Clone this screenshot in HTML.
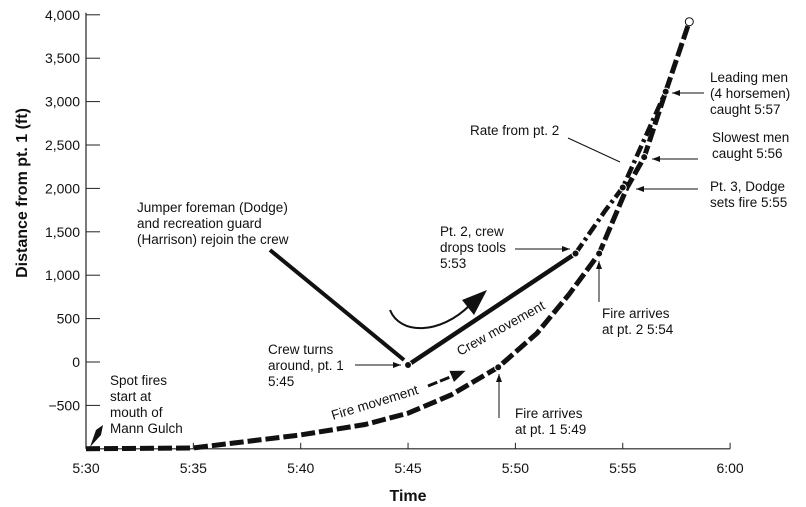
<!DOCTYPE html>
<html><head><meta charset="utf-8"><style>
body{margin:0;background:#fff}
svg{display:block;font-family:"Liberation Sans",Arial,sans-serif}
text{fill:#111}
</style></head><body>
<svg id="chart" width="806" height="507" viewBox="0 0 806 507">
<defs><marker id="ah" markerWidth="8" markerHeight="6" refX="8" refY="3" orient="auto"><path d="M0,0L8,3L0,6z" fill="#111"/></marker>
<marker id="bah" markerWidth="5" markerHeight="4" refX="3" refY="2" orient="auto"><path d="M0,0L5,2L0,4z" fill="#111"/></marker></defs>
<g id="axes"></g>
<g id="series"></g>
<g id="ann" font-size="13.5">
<text x="210" y="212"><tspan x="137" dy="0">Jumper foreman (Dodge)</tspan><tspan x="137" dy="16">and recreation guard</tspan><tspan x="137" dy="16">(Harrison) rejoin the crew</tspan></text>
<line x1="270" y1="250" x2="404" y2="360" stroke="#111" stroke-width="4"/>
<path d="M390,310 C400,335 440,335 470,305" fill="none" stroke="#111" stroke-width="2"/>
<path d="M462,300 L487,290 L474,315 z" fill="#111"/>
<text><tspan x="268" y="354">Crew turns</tspan><tspan x="268" y="370">around, pt. 1</tspan><tspan x="268" y="386">5:45</tspan></text>
<line x1="355" y1="365" x2="401" y2="365" stroke="#111" marker-end="url(#ah)"/>
<text><tspan x="110" y="385">Spot fires</tspan><tspan x="110" y="401">start at</tspan><tspan x="110" y="417">mouth of</tspan><tspan x="110" y="433">Mann Gulch</tspan></text>
<path d="M90,447 L96,430 L103,425 L101,435 z" fill="#111"/>
<text><tspan x="440" y="236">Pt. 2, crew</tspan><tspan x="440" y="252">drops tools</tspan><tspan x="440" y="268">5:53</tspan></text>
<line x1="515" y1="249" x2="570" y2="249" stroke="#111" marker-end="url(#ah)"/>
<text x="470" y="135">Rate from pt. 2</text>
<line x1="568" y1="138" x2="620" y2="162" stroke="#111"/>
<text><tspan x="710" y="82">Leading men</tspan><tspan x="710" y="98">(4 horsemen)</tspan><tspan x="710" y="114">caught 5:57</tspan></text>
<line x1="704" y1="93" x2="672" y2="93" stroke="#111" marker-end="url(#ah)"/>
<text><tspan x="712" y="142">Slowest men</tspan><tspan x="712" y="158">caught 5:56</tspan></text>
<line x1="698" y1="159" x2="652" y2="159" stroke="#111" marker-end="url(#ah)"/>
<text><tspan x="710" y="191">Pt. 3, Dodge</tspan><tspan x="710" y="207">sets fire 5:55</tspan></text>
<line x1="698" y1="189" x2="636" y2="189" stroke="#111" marker-end="url(#ah)"/>
<text><tspan x="602" y="318">Fire arrives</tspan><tspan x="602" y="334">at pt. 2  5:54</tspan></text>
<line x1="599" y1="302" x2="599" y2="261" stroke="#111" marker-end="url(#ah)"/>
<text><tspan x="515" y="418">Fire arrives</tspan><tspan x="515" y="434">at pt. 1  5:49</tspan></text>
<line x1="499" y1="418" x2="499" y2="374" stroke="#111" marker-end="url(#ah)"/>
<text x="0" y="0" transform="translate(460,356) rotate(-29)">Crew movement</text>
<text x="0" y="0" transform="translate(333,420) rotate(-17)">Fire movement</text>
<line x1="428" y1="386" x2="460" y2="373" stroke="#111" stroke-width="3" stroke-dasharray="10,3" marker-end="url(#bah)"/>
</g>
</svg>
<script>
const xTicks=[0,5,10,15,20,25,30];
const xTickLabels=["5:30","5:35","5:40","5:45","5:50","5:55","6:00"];
const yTicks=[-500,0,500,1000,1500,2000,2500,3000,3500,4000];
const yTickLabels=["\u2212500","0","500","1,000","1,500","2,000","2,500","3,000","3,500","4,000"];
const fireT=[0,5,10,13,15,17,19.2,21,22.5,23.9,25.2,26.0,27.0,28.1];
const fireV=[-1000,-990,-840,-720,-590,-380,-60,330,780,1250,2010,2360,3115,3920];
const crewT=[15,22.8];
const crewV=[-35,1250];
const rateT=[22.8,24.2,25.0,27.0];
const rateV=[1250,1750,2010,3115];
const x=t=>86+t*21.47;
const y=v=>362-v*0.0868;
const NS="http://www.w3.org/2000/svg";
function mk(p,tag,a){const e=document.createElementNS(NS,tag);for(const k in a)e.setAttribute(k,a[k]);p.appendChild(e);return e;}
const ax=document.getElementById('axes'),se=document.getElementById('series');
let e=mk(ax,'line',{x1:86,y1:y(4000)-2,x2:86,y2:y(-1000),stroke:'#222','stroke-width':1.2});


e=mk(ax,'line',{x1:86,y1:y(-1000),x2:x(30),y2:y(-1000),stroke:'#222','stroke-width':1.2});


yTicks.forEach((v,i)=>{mk(ax,'line',{x1:86,x2:100,y1:y(v),y2:y(v),stroke:'#222'});
const t=mk(ax,'text',{x:80,y:y(v)+5,'text-anchor':'end','font-size':14});t.textContent=yTickLabels[i];

});
xTicks.forEach((v,i)=>{mk(ax,'line',{x1:x(v),x2:x(v),y1:y(-1000),y2:y(-1000)-6,stroke:'#222'});
const t=mk(ax,'text',{x:x(v),y:473,'text-anchor':'middle','font-size':14});t.textContent=xTickLabels[i];

});
e=mk(ax,'text',{x:408,y:501,'text-anchor':'middle','font-size':16,'font-weight':'bold'});e.textContent='Time';


e=mk(ax,'text',{x:0,y:0,transform:'translate(27,193) rotate(-90)','text-anchor':'middle','font-size':16,'font-weight':'bold'});e.textContent='Distance from pt. 1 (ft)';


const pts=(T,V)=>T.map((t,i)=>x(t)+','+y(V[i])).join(' ');
e=mk(se,'polyline',{points:pts(fireT,fireV),fill:'none',stroke:'#111','stroke-width':5,'stroke-dasharray':'14,4','stroke-linejoin':'round'});


e=mk(se,'polyline',{points:pts(crewT,crewV),fill:'none',stroke:'#111','stroke-width':4.5});


e=mk(se,'polyline',{points:pts(rateT,rateV),fill:'none',stroke:'#111','stroke-width':4.5,'stroke-dasharray':'12,4,3,4'});


[[15,-35],[22.8,1250],[19.2,-60],[23.9,1250],[25.0,2010],[26.0,2360],[27.0,3115]].forEach(p=>{
const c=mk(se,'circle',{cx:x(p[0]),cy:y(p[1]),r:3.5,fill:'#111',stroke:'#fff','stroke-width':1});

});
e=mk(se,'circle',{cx:x(28.1),cy:y(3920),r:4,fill:'#fff',stroke:'#111'});


</script>
</body></html>
